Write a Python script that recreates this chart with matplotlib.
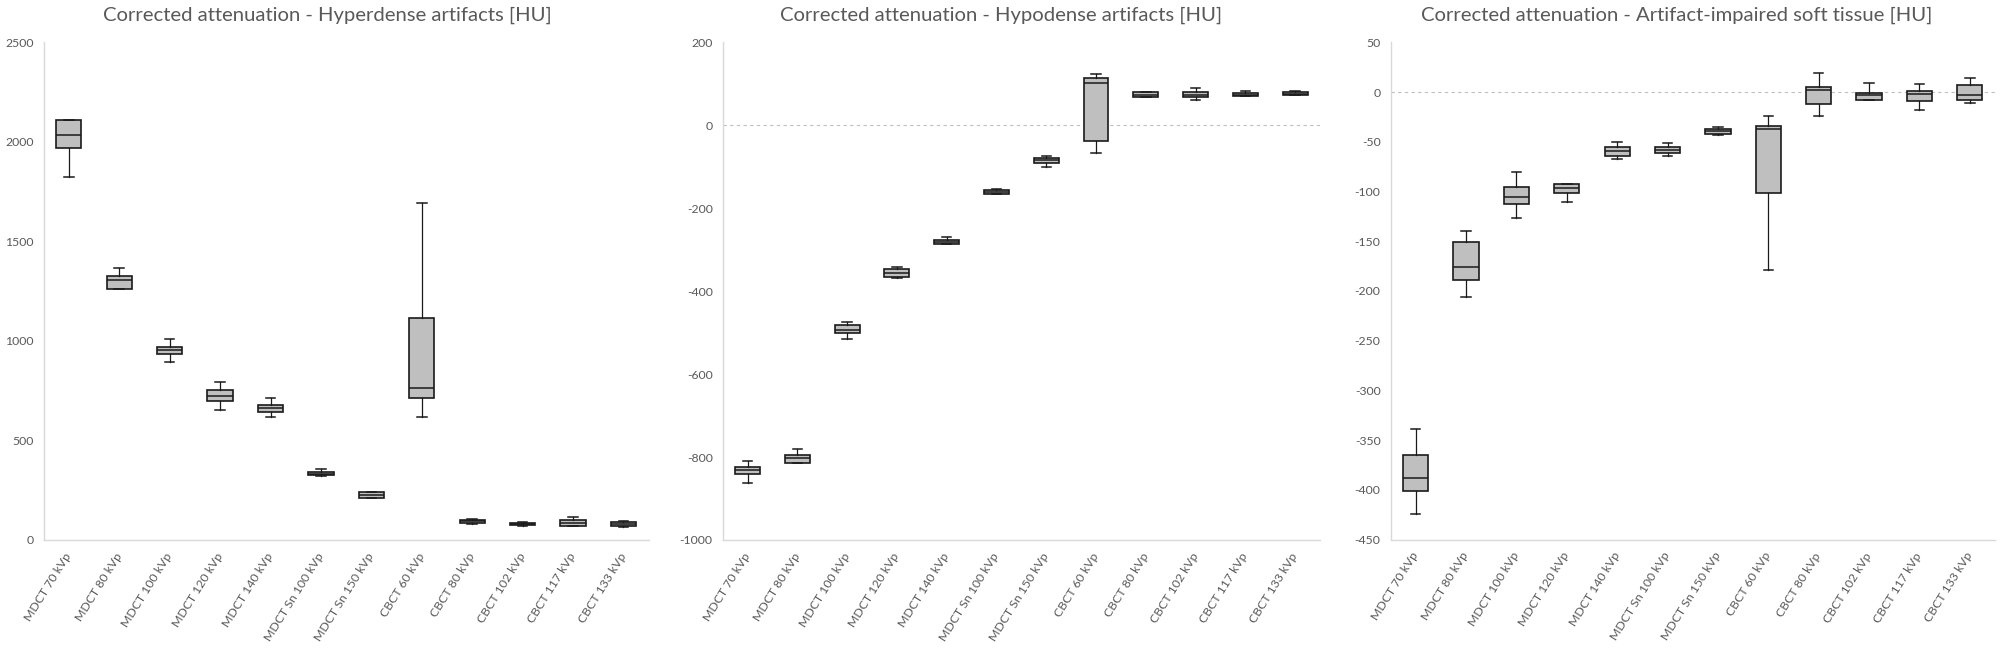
import matplotlib
matplotlib.use("Agg")
import matplotlib.pyplot as plt
from matplotlib.ticker import FixedLocator, FuncFormatter

plt.rcParams['font.family'] = ['Lato', 'DejaVu Sans']
plt.rcParams['axes.unicode_minus'] = False

# ---------------- data ----------------
categories = ["MDCT 70 kVp", "MDCT 80 kVp", "MDCT 100 kVp", "MDCT 120 kVp",
              "MDCT 140 kVp", "MDCT Sn 100 kVp", "MDCT Sn 150 kVp", "CBCT 60 kVp",
              "CBCT 80 kVp", "CBCT 102 kVp", "CBCT 117 kVp", "CBCT 133 kVp"]

titles = ["Corrected attenuation - Hyperdense artifacts [HU]",
          "Corrected attenuation - Hypodense artifacts [HU]",
          "Corrected attenuation - Artifact-impaired soft tissue [HU]"]

# Hyperdense artifacts
hyper_lo  = [1823, 1259, 892, 654, 619, 322, 209, 616, 80, 72, 70, 67]
hyper_q1  = [1970, 1259, 932, 696, 641, 326, 212, 712, 87, 74, 72, 72]
hyper_med = [2032, 1308, 952, 722, 661, 333, 226, 766, 94, 80, 87, 82]
hyper_q3  = [2112, 1328, 968, 754, 677, 343, 239, 1114, 100, 87, 100, 90]
hyper_hi  = [2112, 1366, 1010, 796, 712, 356, 242, 1692, 105, 88, 114, 97]

# Hypodense artifacts
hypo_lo  = [-862, -815, -516, -369, -287, -166, -100, -66, 68, 60, 70, 73]
hypo_q1  = [-842, -815, -502, -366, -287, -165, -90, -39, 69, 69, 70, 73]
hypo_med = [-832, -803, -494, -357, -282, -160, -84, 101, 74, 74, 74, 76]
hypo_q3  = [-823, -794, -482, -347, -277, -155, -79, 115, 79, 79, 77, 79]
hypo_hi  = [-810, -780, -475, -342, -269, -154, -75, 124, 81, 89, 82, 82]

# Artifact-impaired soft tissue
soft_lo  = [-424, -206, -127, -111, -67, -64, -43, -179, -24, -8, -18, -11]
soft_q1  = [-401, -189, -113, -102, -64, -61, -42, -102, -12, -8, -9, -8]
soft_med = [-388, -176, -106, -97, -59, -58, -39, -37, 2, -3, -2, -3]
soft_q3  = [-365, -151, -96, -92, -55, -55, -37, -34, 5, -1, 1, 7]
soft_hi  = [-339, -140, -80, -92, -50, -51, -35, -24, 19, 9, 8, 14]

hyper_ticks = [0, 500, 1000, 1500, 2000, 2500]
hypo_ticks = [-1000, -800, -600, -400, -200, 0, 200]
soft_ticks = [-450, -400, -350, -300, -250, -200, -150, -100, -50, 0, 50]

# ---------------- layout / style ----------------
W, H = 2003, 650
fig = plt.figure(figsize=(W / 100, H / 100), dpi=100)
renderer = fig.canvas.get_renderer()

TXT = '#595959'
AXC = '#d9d9d9'
EDGE = '#1a1a1a'
FILL = '#bfbfbf'


def fit_size(text, target_px, base=10.0):
    t = fig.text(0, 0, text, fontsize=base)
    w = t.get_window_extent(renderer).width
    t.remove()
    return base * target_px / w


title_fs = (fit_size(titles[0], 451) + fit_size(titles[1], 443) + fit_size(titles[2], 515)) / 3
ytick_fs = fit_size("2500", 28.5)
xtick_fs = fit_size("MDCT Sn 100 kVp", 102)

panels = [
    dict(title=titles[0], lo=hyper_lo, q1=hyper_q1, med=hyper_med, q3=hyper_q3, hi=hyper_hi,
         ticks=hyper_ticks, zero=False, box=(43.6, 648.7, 42.3, 540.0), tcx=327),
    dict(title=titles[1], lo=hypo_lo, q1=hypo_q1, med=hypo_med, q3=hypo_q3, hi=hypo_hi,
         ticks=hypo_ticks, zero=True, box=(722.7, 1320.0, 42.3, 540.0), tcx=1001),
    dict(title=titles[2], lo=soft_lo, q1=soft_q1, med=soft_med, q3=soft_q3, hi=soft_hi,
         ticks=soft_ticks, zero=True, box=(1390.5, 1995.0, 42.3, 539.5), tcx=1677),
]


def px_axes(l, r, t, b):
    return [l / W, 1 - b / H, (r - l) / W, (b - t) / H]


for p in panels:
    ax = fig.add_axes(px_axes(*p['box']))
    stats = [dict(med=m, q1=a, q3=c, whislo=lo, whishi=hi)
             for lo, a, m, c, hi in zip(p['lo'], p['q1'], p['med'], p['q3'], p['hi'])]
    pos = list(range(1, len(categories) + 1))
    ax.bxp(stats, positions=pos, widths=0.5, capwidths=0.19, showfliers=False,
           patch_artist=True, manage_ticks=False,
           boxprops=dict(facecolor=FILL, edgecolor=EDGE, linewidth=1.2),
           whiskerprops=dict(color=EDGE, linewidth=0.9),
           capprops=dict(color=EDGE, linewidth=1.1),
           medianprops=dict(color=EDGE, linewidth=1.1))
    if p['zero']:
        ax.axhline(0, color='#bfbfbf', linewidth=0.8, linestyle=(0, (3, 3)), zorder=0)
    ax.set_xlim(0.5, len(categories) + 0.5)
    ax.set_ylim(p['ticks'][0], p['ticks'][-1])
    ax.yaxis.set_major_locator(FixedLocator(p['ticks']))
    ax.yaxis.set_major_formatter(FuncFormatter(lambda v, _: f"{int(round(v))}"))
    ax.set_xticks(pos)
    ax.set_xticklabels(categories, rotation=58, ha='right', va='center',
                       rotation_mode='anchor', fontsize=xtick_fs, color=TXT)
    ax.tick_params(axis='x', length=0, pad=10)
    ax.tick_params(axis='y', length=0, pad=7.2, labelsize=ytick_fs, labelcolor=TXT)
    for s in ('top', 'right'):
        ax.spines[s].set_visible(False)
    for s in ('left', 'bottom'):
        ax.spines[s].set_color(AXC)
        ax.spines[s].set_linewidth(1.0)
    ax.set_facecolor('white')
    fig.text(p['tcx'] / W, 1 - 21 / H, p['title'], ha='center', va='baseline',
             fontsize=title_fs, color=TXT)

fig.savefig("out.png", dpi=100, facecolor='white')
